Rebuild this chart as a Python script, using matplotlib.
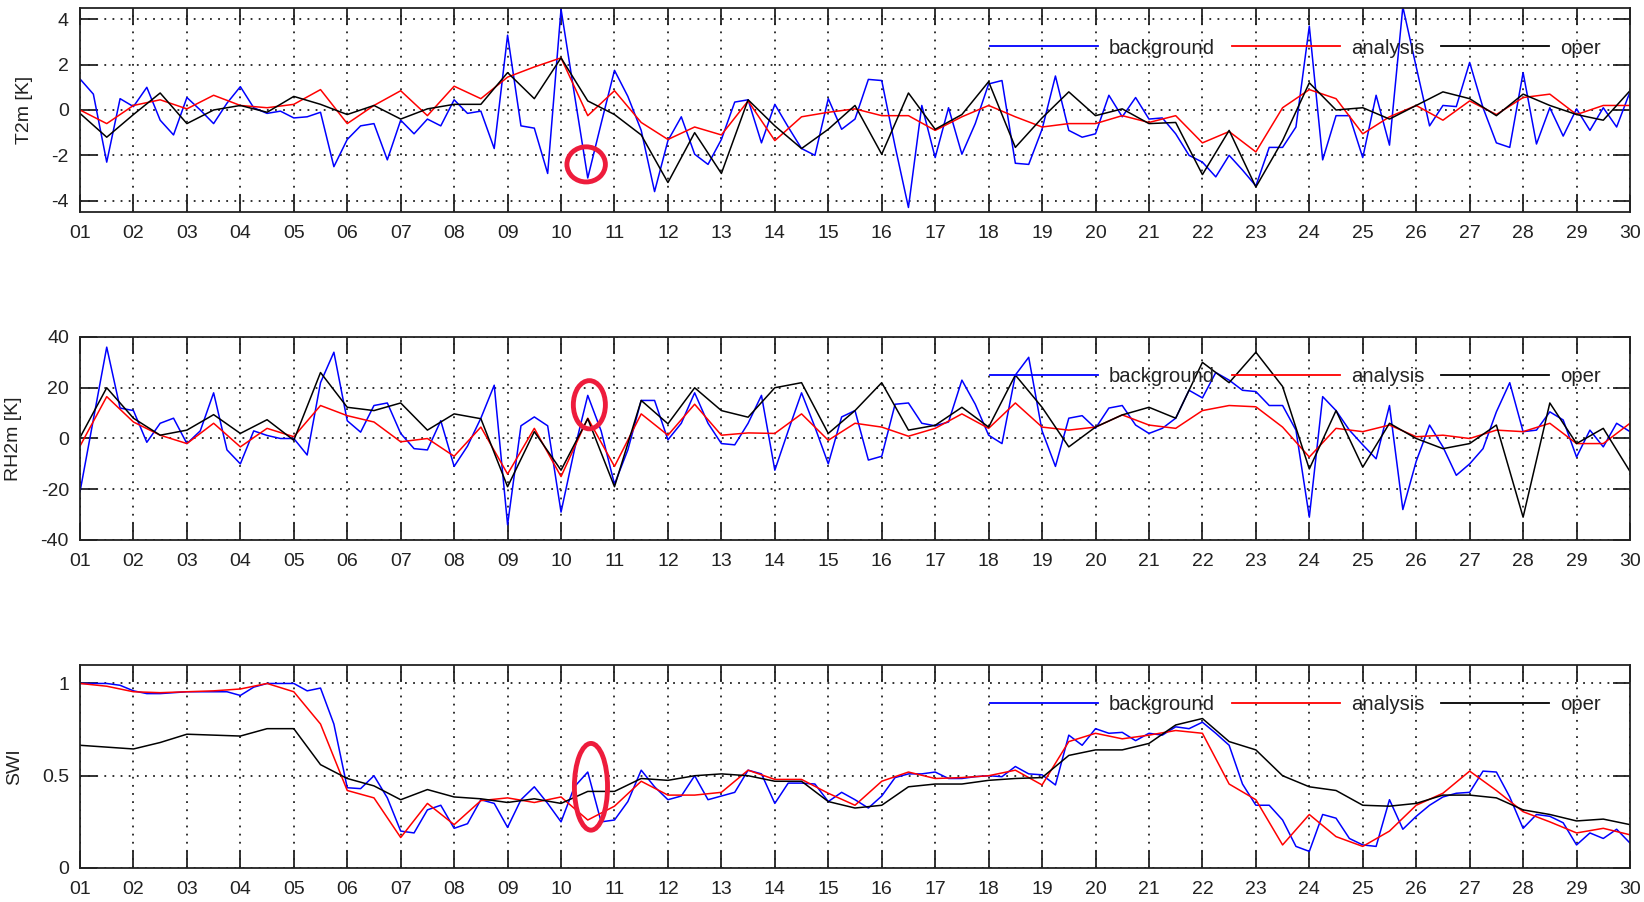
import numpy as np
import matplotlib
matplotlib.use("Agg")
import matplotlib.pyplot as plt
from matplotlib.lines import Line2D
from matplotlib.patches import Ellipse

plt.rcParams['font.family'] = ['Liberation Sans', 'DejaVu Sans']

# time axis: background every 6h, analysis/oper every 12h
t6 = 1 + np.arange(117) * 0.25
t12 = 1 + np.arange(59) * 0.5
day_labels = ["%02d" % d for d in range(1, 31)]

# ---- T2m [K]
t2m_bg = [1.37, 0.7, -2.3, 0.5, 0.15, 1.0, -0.45, -1.1, 0.55, 0.0, -0.6, 0.3,
          1.03, 0.1, -0.15, -0.05, -0.35, -0.3, -0.1, -2.5, -1.3, -0.7, -0.6, -2.2,
          -0.45, -1.05, -0.4, -0.7, 0.45, -0.15, -0.05, -1.7, 3.3, -0.7, -0.8, -2.8,
          4.45, 0.7, -3.0, -0.6, 1.75, 0.6, -0.9, -3.6, -1.35, -0.3, -1.95, -2.4,
          -1.3, 0.35, 0.45, -1.45, 0.25, -0.75, -1.7, -2.0, 0.5, -0.85, -0.4, 1.35,
          1.3, -1.6, -4.3, 0.2, -2.1, 0.1, -1.95, -0.6, 1.15, 1.3, -2.35, -2.4,
          -0.85, 1.5, -0.9, -1.2, -1.05, 0.65, -0.3, 0.55, -0.4, -0.35, -1.05, -2.0,
          -2.3, -2.95, -2.0, -2.65, -3.35, -1.65, -1.65, -0.75, 3.7, -2.2, -0.25, -0.25,
          -2.1, 0.65, -1.55, 4.55, 1.9, -0.7, 0.2, 0.15, 2.1, 0.1, -1.45, -1.65,
          1.65, -1.5, 0.1, -1.15, 0.05, -0.9, 0.1, -0.75, 0.8]
t2m_an = [0.0, -0.6, 0.2, 0.45, 0.05, 0.65, 0.2, 0.1, 0.25, 0.9, -0.6, 0.2,
          0.85, -0.25, 1.05, 0.5, 1.45, 1.9, 2.3, -0.25, 0.85, -0.55, -1.3, -0.75,
          -1.1, 0.4, -1.35, -0.3, -0.1, 0.05, -0.25, -0.25, -0.9, -0.3, 0.2, -0.3,
          -0.75, -0.6, -0.6, -0.25, -0.55, -0.25, -1.45, -0.95, -1.85, 0.1, 0.9, 0.5,
          -1.05, -0.3, 0.2, -0.45, 0.4, -0.2, 0.55, 0.7, -0.2, 0.2, 0.2]
t2m_op = [-0.15, -1.2, -0.2, 0.75, -0.6, 0.0, 0.2, -0.1, 0.6, 0.25, -0.2, 0.2,
          -0.4, 0.05, 0.25, 0.25, 1.65, 0.5, 2.3, 0.4, -0.2, -1.1, -3.2, -1.0,
          -2.8, 0.45, -0.7, -1.7, -0.85, 0.2, -1.95, 0.75, -0.85, -0.2, 1.25, -1.65,
          -0.35, 0.8, -0.25, 0.05, -0.6, -0.55, -2.85, -0.9, -3.4, -1.35, 1.2, 0.0,
          0.1, -0.4, 0.2, 0.8, 0.5, -0.25, 0.7, 0.2, -0.2, -0.45, 0.85]

# ---- RH2m
rh_bg = [-21, 7.5, 36, 12, 11, -1.5, 6, 8, -2, 3, 18, -4.5,
         -10, 3, 1.2, 0, 0, -6.5, 22, 34, 7, 2.5, 13, 14,
         2, -4, -4.5, 7, -11, -3, 8, 21, -34, 5, 8.5, 5,
         -29, -4.5, 17, 3, -18, -4.5, 15, 15, -0.5, 6, 18, 6,
         -2, -2.5, 6, 17, -12.5, 3, 18, 4.5, -10, 8.5, 11, -8.5,
         -7, 13.5, 14, 6, 5, 6.5, 23, 13.5, 1.3, -2, 25, 32,
         3, -11, 8, 9, 4, 12, 13, 5.3, 2, 4, 8, 19,
         16, 26, 23, 19, 18.5, 13, 13, 3.3, -31, 16.5, 11, 3.3,
         -2.5, -8, 13, -28, -9, 5.3, -3.3, -14.5, -10, -4, 10.5, 22,
         2.7, 3.3, 10.5, 7.3, -7.3, 3.3, -3.3, 6, 2.7]
rh_an = [-3, 16.5, 6.5, 1.3, -2, 6, -3.3, 4, 0.7, 13, 9, 6.5,
         -1.3, 0, -7, 4.5, -14, 4, -15, 8, -11, 9.7, 1.3, 13.5,
         1.3, 2.2, 2, 9.7, -0.7, 6, 4.5, 0.9, 4, 9.7, 4, 14,
         4.5, 3.3, 4.5, 9.3, 5.3, 4, 11, 13, 12.5, 4.5, -7.3, 4,
         2.7, 5.3, 0.7, 1.3, 0, 3.3, 2.7, 6, -2, -2, 6]
rh_op = [0.4, 20, 8, 1.3, 3.3, 9.4, 2, 7.4, -0.7, 26, 12.3, 11,
         14, 3.3, 9.7, 7.8, -19, 2.7, -12.5, 7.8, -19, 15, 5.8, 20,
         11, 8.4, 20, 22, 2, 11, 22, 3.3, 5.2, 12.3, 4.5, 25,
         12.3, -3.3, 4.5, 9.3, 12.3, 8, 30, 22, 34, 20.5, -12, 11,
         -11.3, 6, 0, -4, -2, 5.3, -31, 14, -2, 4, -13]

# ---- SWI
swi_bg = [1.0, 1.0, 1.0, 0.99, 0.96, 0.945, 0.945, 0.95, 0.955, 0.955, 0.955, 0.955,
          0.935, 0.98, 1.0, 1.0, 1.0, 0.96, 0.975, 0.78, 0.435, 0.43, 0.5, 0.38,
          0.2, 0.19, 0.315, 0.34, 0.215, 0.24, 0.37, 0.35, 0.22, 0.37, 0.44, 0.35,
          0.25, 0.44, 0.52, 0.25, 0.26, 0.36, 0.53, 0.44, 0.37, 0.39, 0.5, 0.37,
          0.39, 0.41, 0.53, 0.51, 0.35, 0.46, 0.46, 0.455, 0.36, 0.41, 0.37, 0.325,
          0.39, 0.49, 0.51, 0.51, 0.52, 0.485, 0.485, 0.495, 0.5, 0.495, 0.55, 0.51,
          0.505, 0.45, 0.72, 0.665, 0.755, 0.73, 0.735, 0.69, 0.73, 0.72, 0.765, 0.755,
          0.79, 0.73, 0.665, 0.455, 0.34, 0.34, 0.26, 0.117, 0.09, 0.29, 0.27, 0.16,
          0.125, 0.117, 0.37, 0.21, 0.28, 0.34, 0.385, 0.405, 0.41, 0.525, 0.52, 0.385,
          0.215, 0.29, 0.28, 0.245, 0.125, 0.19, 0.16, 0.21, 0.135]
swi_an = [1.0, 0.985, 0.955, 0.95, 0.955, 0.96, 0.97, 1.0, 0.955, 0.78, 0.42, 0.38,
          0.165, 0.35, 0.235, 0.365, 0.38, 0.355, 0.385, 0.26, 0.335, 0.47, 0.395, 0.395,
          0.41, 0.53, 0.48, 0.48, 0.405, 0.34, 0.47, 0.52, 0.485, 0.49, 0.5, 0.53,
          0.45, 0.685, 0.73, 0.7, 0.72, 0.745, 0.73, 0.455, 0.37, 0.125, 0.29, 0.17,
          0.117, 0.2, 0.34, 0.405, 0.525, 0.42, 0.305, 0.25, 0.19, 0.215, 0.18]
swi_op = [0.665, 0.655, 0.645, 0.68, 0.725, 0.72, 0.715, 0.755, 0.755, 0.56, 0.485, 0.445,
          0.37, 0.425, 0.385, 0.375, 0.355, 0.375, 0.35, 0.415, 0.415, 0.485, 0.475, 0.5,
          0.51, 0.5, 0.47, 0.47, 0.36, 0.325, 0.34, 0.44, 0.455, 0.455, 0.475, 0.485,
          0.49, 0.61, 0.64, 0.64, 0.675, 0.775, 0.81, 0.685, 0.64, 0.5, 0.44, 0.42,
          0.34, 0.335, 0.35, 0.395, 0.395, 0.38, 0.315, 0.29, 0.255, 0.265, 0.235]

panels = [
    ("T2m [K]", t2m_bg, t2m_an, t2m_op, (-4.5, 4.5), [-4, -2, 0, 2, 4], ["-4", "-2", "0", "2", "4"]),
    ("RH2m [K]", rh_bg, rh_an, rh_op, (-40, 40), [-40, -20, 0, 20, 40], ["-40", "-20", "0", "20", "40"]),
    ("SWI", swi_bg, swi_an, swi_op, (0, 1.1), [0, 0.5, 1], ["0", "0.5", "1"]),
]
# pixel rows (top, bottom) of each frame
frames = [(8, 212), (337, 540), (665, 868)]
label_x = [-0.0355, -0.043, -0.0425]
# hand-drawn marks around day 10.5: (centre day, centre value, width, height)
marks = [(10.47, -2.4, 0.72, 1.55), (10.53, 13.3, 0.6, 19.0), (10.56, 0.44, 0.62, 0.47)]

W, H = 1644, 902
fig = plt.figure(figsize=(W / 100, H / 100), dpi=100)
ink = '#222222'

for i, (name, bg, an, op, ylim, yt, ytl) in enumerate(panels):
    top, bot = frames[i]
    ax = fig.add_axes([80 / W, 1 - bot / H, 1550 / W, (bot - top) / H])
    ax.plot(t6, bg, color='#0000ff', lw=1.1)
    ax.plot(t12, an, color='#ff0000', lw=1.1)
    ax.plot(t12, op, color='#000000', lw=1.1)

    ax.set_xlim(1, 30)
    ax.set_ylim(*ylim)
    ax.set_xticks(range(1, 31))
    ax.set_xticklabels(day_labels)
    ax.set_yticks(yt)
    ax.set_yticklabels(ytl)
    ax.set_axisbelow(True)
    ax.grid(True, color=ink, linestyle=(0, (1, 3.5)), linewidth=1.3)
    ax.tick_params(direction='in', length=12, width=1.3, top=True, right=True,
                   labelsize=14, colors=ink)
    ax.tick_params(axis='x', pad=9)
    ax.tick_params(axis='y', pad=8)
    for s in ax.spines.values():
        s.set_linewidth(1.3)
        s.set_color(ink)
    ax.set_ylabel(name, fontsize=14, color=ink, va='center')
    ax.yaxis.set_label_coords(label_x[i], 0.5)

    handles = [Line2D([], [], color='#0000ff', lw=1.3),
               Line2D([], [], color='#ff0000', lw=1.3),
               Line2D([], [], color='#000000', lw=1.3)]
    leg = ax.legend(handles, ['background', 'analysis', 'oper'], ncol=3,
                    loc='center right', bbox_to_anchor=(0.981, 1 - 40 / (bot - top)),
                    frameon=False, fontsize=14.6, handlelength=5.3, handletextpad=0.55,
                    columnspacing=0.85, borderpad=0, borderaxespad=0)
    for txt in leg.get_texts():
        txt.set_color(ink)

    cx, cy, w, h = marks[i]
    ax.add_patch(Ellipse((cx, cy), w, h, fill=False, edgecolor='#ee1c3c', lw=3.5, zorder=6))

fig.savefig('out.png', dpi=100)
